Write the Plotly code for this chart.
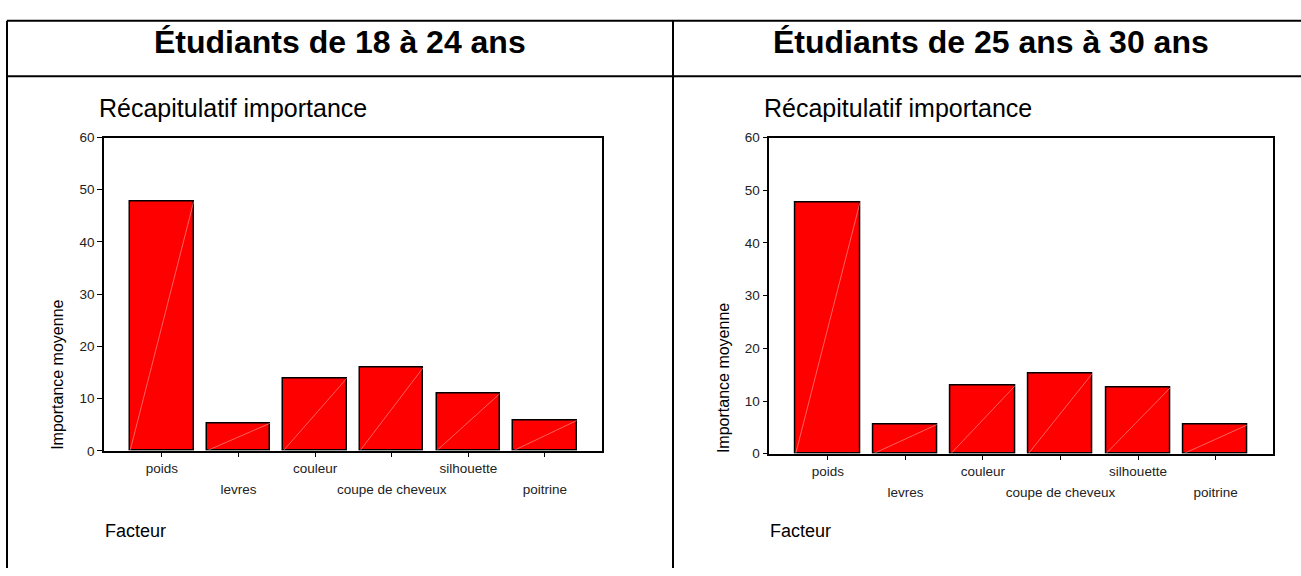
import plotly.graph_objects as go

# -- Data --
facteurs = ["poids", "levres", "couleur", "coupe de cheveux", "silhouette", "poitrine"]
importance_18_24 = [47.7, 5.3, 13.9, 16.0, 11.0, 5.8]
importance_25_30 = [47.7, 5.6, 12.9, 15.3, 12.5, 5.5]
groupes = ["Étudiants de 18 à 24 ans", "Étudiants de 25 ans à 30 ans"]
y_ticks = [0, 10, 20, 30, 40, 50, 60]

W, H = 1301, 576
FONT = "Arial, Liberation Sans, sans-serif"
BAR_W = 0.83


def px_x(p):
    return p / W


def px_y(p):
    return 1 - p / H


idx = list(range(len(facteurs)))
fig = go.Figure()

# -- Panels: (values, x axis, overlay axis, y axis, plot box in px) --
panels = [
    (importance_18_24, "x", "x3", "y", (104, 602, 134, 455.7)),
    (importance_25_30, "x2", "x4", "y2", (769.3, 1273.3, 134, 458.7)),
]

for k, (vals, xa, xo, ya, box) in enumerate(panels):
    fig.add_trace(go.Bar(
        x=idx, y=vals, width=BAR_W, xaxis=xa, yaxis=ya,
        marker=dict(color="#ff0000", line=dict(color="black", width=1.5)),
        showlegend=False, hoverinfo="y",
    ))
    # thin diagonal line drawn across each bar
    for i, v in zip(idx, vals):
        fig.add_trace(go.Scatter(
            x=[i - BAR_W / 2, i + BAR_W / 2], y=[0, v], xaxis=xa, yaxis=ya,
            mode="lines", line=dict(color="rgba(255,190,190,0.85)", width=0.6),
            showlegend=False, hoverinfo="skip",
        ))
    # invisible trace so the overlay axis (second row of labels) gets drawn
    fig.add_trace(go.Scatter(
        x=idx, y=[None] * len(idx), xaxis=xo, yaxis=ya,
        mode="markers", showlegend=False, hoverinfo="skip",
    ))

    x0, x1, y0, y1 = box
    xdom = [px_x(x0), px_x(x1)]
    ydom = [px_y(y1), px_y(y0)]
    n = "" if k == 0 else "2"
    no = "3" if k == 0 else "4"
    axis_common = dict(
        range=[-0.755, len(idx) - 0.255], domain=xdom, tickvals=idx,
        showgrid=False, zeroline=False, tickfont=dict(size=13.5, color="#222"),
    )
    fig.update_layout({
        "xaxis" + n: dict(
            axis_common, anchor=ya,
            ticktext=[f if i % 2 == 0 else "" for i, f in enumerate(facteurs)],
            ticks="outside", ticklen=4, tickcolor="black",
            showline=True, linecolor="black", linewidth=1.5, mirror=True,
        ),
        "xaxis" + no: dict(
            axis_common, anchor=ya, overlaying=xa,
            ticktext=[f if i % 2 == 1 else "" for i, f in enumerate(facteurs)],
            ticks="", showline=False, ticklabelstandoff=29,
        ),
        "yaxis" + n: dict(
            range=[0, 60], domain=ydom, anchor=xa, tickvals=y_ticks,
            ticks="outside", ticklen=5, tickcolor="black",
            showline=True, linecolor="black", linewidth=1.5, mirror=True,
            showgrid=False, zeroline=False, tickfont=dict(size=13.5, color="#222"),
        ),
    })

    # chart title, axis titles
    fig.add_annotation(x=px_x(x0 - 7), y=px_y(104), xref="paper", yref="paper",
                       text="Récapitulatif importance", showarrow=False,
                       xanchor="left", yanchor="middle",
                       font=dict(size=25, color="black"))
    fig.add_annotation(x=px_x(x0 - 1), y=px_y(538), xref="paper", yref="paper",
                       text="Facteur", showarrow=False,
                       xanchor="left", yanchor="middle",
                       font=dict(size=18, color="black"))
    fig.add_annotation(x=px_x(x0 - 46), y=px_y(y1 - 78), xref="paper", yref="paper",
                       text="Importance moyenne", showarrow=False, textangle=-90,
                       xanchor="center", yanchor="middle",
                       font=dict(size=16, color="black"))

# -- Table headers --
for txt, cx in zip(groupes, [340, 991]):
    fig.add_annotation(x=px_x(cx), y=px_y(36), xref="paper", yref="paper",
                       text=f"<b>{txt}</b>", showarrow=False,
                       xanchor="center", yanchor="middle",
                       font=dict(size=32, color="black"))

# -- Table lines --
line = dict(color="black", width=2)
for (ax, ay, bx, by) in [(7, 14, 1301, 14), (7, 71, 1301, 71),
                         (7, 14, 7, 576), (673, 14, 673, 576)]:
    fig.add_shape(type="line", xref="paper", yref="paper",
                  x0=px_x(ax), y0=px_y(ay), x1=px_x(bx), y1=px_y(by), line=line)

fig.update_layout(
    width=W, height=H, margin=dict(l=0, r=0, t=0, b=0),
    paper_bgcolor="white", plot_bgcolor="white",
    font=dict(family=FONT), bargap=0,
)

# pin the figure to the top-left corner of the page
pin = ("var d=document.getElementById('{plot_id}');"
       "d.style.position='fixed';d.style.top='0';d.style.left='0';"
       "document.body.style.margin='0';"
       "document.documentElement.style.overflow='hidden';")
fig.write_html("out.html", config={"displayModeBar": False}, post_script=pin)
